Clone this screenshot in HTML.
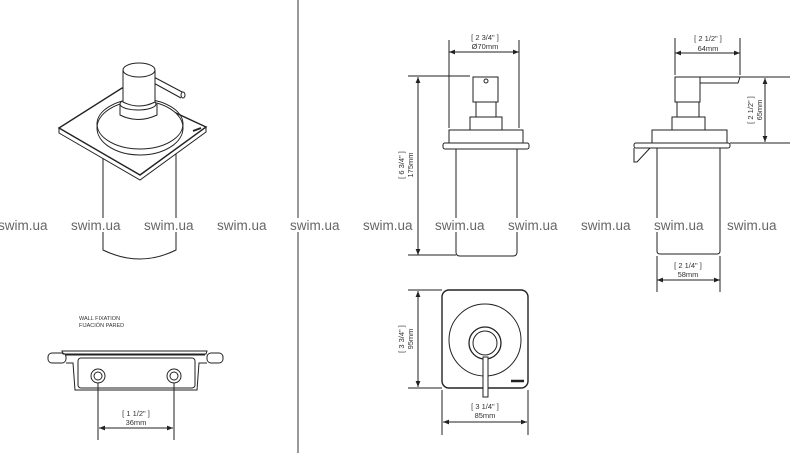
<!DOCTYPE html>
<html><head><meta charset="utf-8"><style>
html,body{margin:0;padding:0;background:#fff}
svg{display:block}
text{font-family:"Liberation Sans",sans-serif}
</style></head><body>
<svg width="800" height="453" viewBox="0 0 800 453" xmlns="http://www.w3.org/2000/svg">
<defs>
<marker id="a" viewBox="0 0 10 10" refX="10" refY="5" markerWidth="6" markerHeight="6" orient="auto-start-reverse"><path d="M0,1 L10,5 L0,9 z" fill="#222"/></marker>
</defs>
<g fill="none" stroke="#222" stroke-width="1">
<!-- divider -->
<line x1="298" y1="0" x2="298" y2="453" stroke="#333"/>

<!-- isometric view -->
<path d="M103,150 L103,250 Q140,268 176,250 L176,150"/>
<path d="M59,133 L140,180 L206,132 L206,127 L140,175 L59,128 Z" fill="#fff"/>
<path d="M59,128 L122,88 L206,127 L140,175 Z" stroke-width="1.4" fill="#fff"/>
<ellipse cx="140" cy="128" rx="43" ry="27" fill="#fff"/>
<ellipse cx="140" cy="124" rx="43" ry="25"/>
<path d="M120,104 L120,115 Q138,124 157,115 L157,104" fill="#fff"/>
<ellipse cx="138" cy="104" rx="18" ry="6" fill="#fff"/>
<path d="M150,75 L184,93 M150,81 L181,98"/>
<ellipse cx="183" cy="95" rx="2" ry="3" fill="#fff"/>
<path d="M123,70 L123,102 Q139,110 155,102 L155,70" fill="#fff"/>
<ellipse cx="139" cy="70" rx="16" ry="7" fill="#fff"/>
<line x1="193" y1="131" x2="201" y2="128" stroke-width="2"/>

<!-- front view -->
<line x1="449" y1="40" x2="449" y2="128"/>
<line x1="519" y1="40" x2="519" y2="128"/>
<line x1="449" y1="52" x2="519" y2="52" marker-start="url(#a)" marker-end="url(#a)"/>
<rect x="473" y="77" width="25" height="25"/>
<circle cx="486" cy="81" r="2"/>
<rect x="476" y="102" width="20" height="15"/>
<rect x="470" y="117" width="32" height="13"/>
<rect x="449" y="130" width="74" height="13"/>
<rect x="443" y="143" width="86" height="6" rx="2"/>
<path d="M456,149 L456,252 Q456,256 460,256 L513,256 Q517,256 517,252 L517,149"/>
<line x1="408" y1="76" x2="470" y2="76"/>
<line x1="408" y1="255" x2="456" y2="255"/>
<line x1="418" y1="77" x2="418" y2="255" marker-start="url(#a)" marker-end="url(#a)"/>

<!-- side view -->
<line x1="675" y1="38" x2="675" y2="75"/>
<line x1="740" y1="38" x2="740" y2="75"/>
<line x1="675" y1="53" x2="740" y2="53" marker-start="url(#a)" marker-end="url(#a)"/>
<rect x="675" y="77" width="25" height="25"/>
<path d="M700,77 L740,77 L738,83 L700,83"/>
<rect x="677" y="102" width="22" height="15"/>
<rect x="672" y="117" width="33" height="13"/>
<rect x="652" y="130" width="75" height="13"/>
<rect x="634" y="143" width="96" height="5" rx="2"/>
<path d="M634,148 L634,162 L637,162 L650,148"/>
<path d="M657,148 L657,251 Q657,254 660,254 L717,254 Q720,254 720,251 L720,148"/>
<line x1="740" y1="77" x2="790" y2="77"/>
<line x1="730" y1="143" x2="790" y2="143"/>
<line x1="765" y1="78" x2="765" y2="142" marker-start="url(#a)" marker-end="url(#a)"/>
<line x1="657" y1="256" x2="657" y2="292"/>
<line x1="720" y1="256" x2="720" y2="292"/>
<line x1="657" y1="280" x2="720" y2="280" marker-start="url(#a)" marker-end="url(#a)"/>

<!-- top view -->
<rect x="442" y="290" width="86" height="98" rx="7" stroke-width="1.4"/>
<circle cx="485" cy="340" r="36"/>
<circle cx="485" cy="343" r="16" stroke-width="1.3"/>
<circle cx="485" cy="343" r="12"/>
<rect x="483" y="357" width="5" height="40" fill="#fff"/>
<line x1="511" y1="381" x2="524" y2="381" stroke-width="2.5"/>
<line x1="408" y1="290" x2="442" y2="290"/>
<line x1="408" y1="388" x2="442" y2="388"/>
<line x1="418" y1="291" x2="418" y2="387" marker-start="url(#a)" marker-end="url(#a)"/>
<line x1="442" y1="390" x2="442" y2="435"/>
<line x1="528" y1="390" x2="528" y2="435"/>
<line x1="443" y1="422" x2="527" y2="422" marker-start="url(#a)" marker-end="url(#a)"/>

<!-- wall fixation -->
<path d="M62,351 L207,351 L206,354 L63,354 Z"/>
<rect x="48" y="353" width="18" height="10" rx="4"/>
<rect x="207" y="353" width="16" height="10" rx="4"/>
<path d="M66,355 L205,355"/>
<path d="M66,363 L73,363 L75,390 L197,390 L199,363 L207,363"/>
<rect x="78" y="358" width="117" height="30" rx="3"/>
<circle cx="98" cy="376" r="7"/><circle cx="98" cy="376" r="4"/>
<circle cx="174" cy="376" r="7"/><circle cx="174" cy="376" r="4"/>
<line x1="98" y1="383" x2="98" y2="440"/>
<line x1="174" y1="383" x2="174" y2="440"/>
<line x1="99" y1="428" x2="173" y2="428" marker-start="url(#a)" marker-end="url(#a)"/>
</g>

<g fill="#333" font-size="7.5" text-anchor="middle">
<text x="485" y="40">[ 2 3/4" ]</text>
<text x="485" y="49">Ø70mm</text>
<text x="708" y="41">[ 2 1/2" ]</text>
<text x="708" y="51">64mm</text>
<text x="688" y="268">[ 2 1/4" ]</text>
<text x="688" y="277">58mm</text>
<text x="485" y="409">[ 3 1/4" ]</text>
<text x="485" y="418">85mm</text>
<text x="136" y="416">[ 1 1/2" ]</text>
<text x="136" y="425">36mm</text>
<text transform="translate(404,165) rotate(-90)">[ 6 3/4" ]</text>
<text transform="translate(413,165) rotate(-90)">175mm</text>
<text transform="translate(753,110) rotate(-90)">[ 2 1/2" ]</text>
<text transform="translate(762,110) rotate(-90)">65mm</text>
<text transform="translate(404,339) rotate(-90)">[ 3 3/4" ]</text>
<text transform="translate(413,339) rotate(-90)">95mm</text>
</g>
<g fill="#333" font-size="5.5">
<text x="79" y="320">WALL FIXATION</text>
<text x="79" y="327">FIJACIÓN PARED</text>
</g>

<g fill="#fff">
<rect x="0" y="218" width="50" height="14"/>
<rect x="71" y="218" width="50" height="14"/>
<rect x="144" y="218" width="50" height="14"/>
<rect x="217" y="218" width="50" height="14"/>
<rect x="290" y="218" width="50" height="14"/>
<rect x="363" y="218" width="50" height="14"/>
<rect x="435" y="218" width="50" height="14"/>
<rect x="508" y="218" width="50" height="14"/>
<rect x="581" y="218" width="50" height="14"/>
<rect x="654" y="218" width="50" height="14"/>
<rect x="727" y="218" width="50" height="14"/>
</g>
<g font-size="13.5" fill="#666">
<text x="-2" y="230">swim.ua</text>
<text x="71" y="230">swim.ua</text>
<text x="144" y="230">swim.ua</text>
<text x="217" y="230">swim.ua</text>
<text x="290" y="230">swim.ua</text>
<text x="363" y="230">swim.ua</text>
<text x="435" y="230">swim.ua</text>
<text x="508" y="230">swim.ua</text>
<text x="581" y="230">swim.ua</text>
<text x="654" y="230">swim.ua</text>
<text x="727" y="230">swim.ua</text>
</g>
</svg>
</body></html>
